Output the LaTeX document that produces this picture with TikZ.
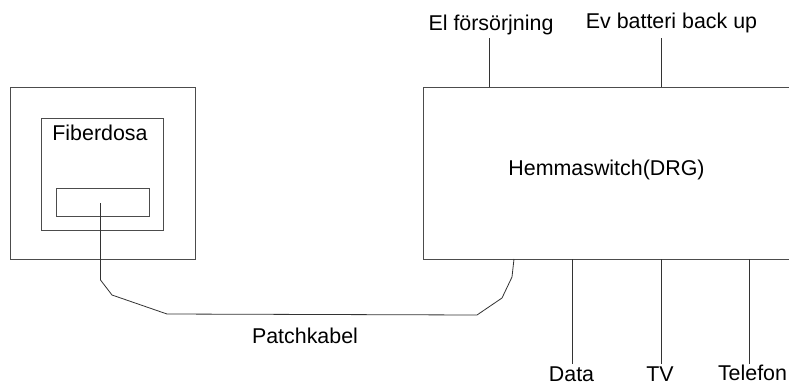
\documentclass[tikz,border=0pt]{standalone}
\usepackage{fontspec}
\setmainfont{Liberation Sans}
\begin{document}
\begin{tikzpicture}[x=1pt,y=-1pt,
  box/.style={draw=black!70,line width=0.9pt,fill=none,inner sep=0pt},
  wire/.style={draw=black!80,line width=0.8pt},
  lbl/.style={font=\fontsize{21.4}{24}\selectfont,inner sep=0pt,text=black,anchor=base}]
\useasboundingbox (0,0) rectangle (789,383);
\fill[white] (0,0) rectangle (789,383);
\node[box,minimum width=185pt,minimum height=172pt] (outer) at (102.5,173) {};
\node[box,minimum width=121.5pt,minimum height=112.5pt] (inner) at (102.2,174.2) {};
\node[box,minimum width=93pt,minimum height=28pt] (port) at (102.5,202) {};
\node[lbl] (fib) at (100,140) {Fiberdosa};
\draw[box] (795,87) -- (423,87) -- (423,259) -- (795,259);
\coordinate (sw) at (423,87);
\node[lbl] (hem) at (606.5,175) {Hemmaswitch(DRG)};
\node[lbl] (el) at (491,30) {El försörjning};
\node[lbl] (ev) at (671.5,28.5) {Ev batteri back up};
\node[lbl] (patch) at (305,343) {Patchkabel};
\node[lbl] (data) at (571.5,381.8) {Data};
\node[lbl] (tv) at (660,381.8) {TV};
\node[lbl] (tel) at (752.5,380.8) {Telefon};
\coordinate (elT) at (489,38); \coordinate (elB) at (489,87);
\coordinate (evT) at (661,38); \coordinate (evB) at (661,87);
\coordinate (dT) at (572,259); \coordinate (dB) at (572,364);
\coordinate (tT) at (661,259); \coordinate (tB) at (661,364);
\coordinate (teT) at (749.5,259); \coordinate (teB) at (749.5,364);
\draw[wire] (elT) -- (elB);
\draw[wire] (evT) -- (evB);
\draw[wire] (dT) -- (dB);
\draw[wire] (tT) -- (tB);
\draw[wire] (teT) -- (teB);
\coordinate (c0) at (100.5,203);
\coordinate (c7) at (514,259);
\draw[wire] (c0) -- (100.5,280) -- (112,295) -- (167,314) -- (477,315) -- (502,298) -- (512,277) -- (c7);
\end{tikzpicture}
\end{document}
